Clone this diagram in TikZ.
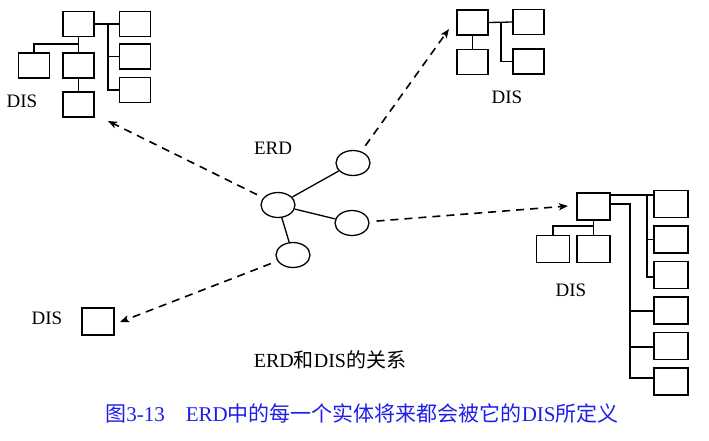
\documentclass[tikz,border=0pt]{standalone}
\usepackage{fontspec}
\setmainfont{Liberation Serif}
\newfontfamily\cjk{Noto Sans CJK SC}
\usepackage{tikz}
\usetikzlibrary{arrows.meta,positioning,shapes}
\definecolor{capblue}{RGB}{30,30,230}

\begin{document}
\begin{tikzpicture}[x=1pt,y=-1pt,>={Stealth[length=9pt,width=7pt,inset=2pt]},line width=1.3pt,
  dbox/.style={draw,rectangle,inner sep=0pt,minimum width=31pt,minimum height=25pt},
  ent/.style={draw,ellipse,inner sep=0pt,minimum width=34pt,minimum height=25pt},
  lbl/.style={inner sep=0pt,font=\fontsize{19}{22}\selectfont}]
\useasboundingbox (0,0) rectangle (709,440);
% upper left DIS
\node[dbox] (tl0) at (78.5,24)   {};
\node[dbox] (tl1) at (135,24)    {};
\node[dbox] (tl2) at (135,56.5)  {};
\node[dbox] (tl3) at (135,90)    {};
\node[dbox] (tl4) at (34,65.5)   {};
\node[dbox] (tl5) at (78.5,65.5) {};
\node[dbox] (tl6) at (78.5,104.5){};
\node[lbl]  (tldis) at (22,101)  {DIS};
\coordinate (tlv) at (108,24);
\coordinate (tlh) at (78.5,44);
\draw (tl0.east) -- (tl1.west);
\draw (tlv) |- (tl3.west);
\draw (tlv |- tl2) -- (tl2.west);
\draw (tl0.south) -- (tl5.north);
\draw (tlh) -| (tl4.north);
\draw (tl5.south) -- (tl6.north);
% upper right DIS
\node[dbox] (tr0) at (472.5,22.5) {};
\node[dbox] (tr1) at (472.5,62)   {};
\node[dbox] (tr2) at (528.5,22)   {};
\node[dbox] (tr3) at (528.5,61.5) {};
\node[lbl]  (trdis) at (507,97)   {DIS};
\coordinate (trv) at (501,22.5);
\draw (tr0.east) -- (tr2.west);
\draw (trv) |- (tr3.west);
\draw (tr0.south) -- (tr1.north);
% right DIS
\node[dbox,minimum width=33pt,minimum height=27pt] (r0) at (593.5,206.5) {};
\node[dbox,minimum width=33pt,minimum height=27pt] (r1) at (553,249)    {};
\node[dbox,minimum width=33pt,minimum height=27pt] (r2) at (593.5,249)  {};
\foreach \i in {1,...,6}
  \node[dbox,minimum width=34pt,minimum height=27pt] (c\i) at (671,{168.5+35.5*\i}) {};
\node[lbl] (rdis) at (571,290) {DIS};
\coordinate (ra) at (r0.east |- 0,195);
\coordinate (rb) at (r0.east |- 0,204);
\coordinate (rav) at (647,195);
\coordinate (rbv) at (630,204);
\coordinate (rh) at (593.5,226);
\draw (ra) -- (c1.west |- ra);
\draw (rav) |- (c3.west |- 0,277);
\draw (rav |- c2) -- (c2.west);
\draw (rb) -- (rbv) |- (c6.west |- 0,378);
\draw (rbv |- 0,311) -- (c4.west |- 0,311);
\draw (rbv |- 0,347) -- (c5.west |- 0,347);
\draw (r0.south) -- (r2.north);
\draw (rh) -| (r1.north);
% lower left DIS
\node[dbox,minimum width=32pt,minimum height=27pt] (bl) at (98,321.5) {};
\node[lbl] (bldis) at (47,318) {DIS};
% ERD
\node[ent] (e0) at (278,205) {};
\node[ent] (e1) at (353,163) {};
\node[ent] (e2) at (352,223) {};
\node[ent] (e3) at (293,255) {};
\node[lbl] (erd) at (273,148) {ERD};
\draw (e0) -- (e1);
\draw (e0) -- (e2);
\draw (e0) -- (e3);
% arrows to the DIS
\coordinate (tltip) at (108,121);
\coordinate (trtip) at (449,29);
\coordinate (rtip)  at (568,206);
\coordinate (bltip) at (120,322);
\tikzset{darrow/.style={->,dash pattern=on 8pt off 6pt,line width=1.6pt,shorten <=7pt}}
\draw[darrow] (e0) -- (tltip);
\draw[darrow] (e1) -- (trtip);
\draw[darrow] (e2) -- (rtip);
\draw[darrow] (e3) -- (bltip);
% titles
\node[lbl,font=\fontsize{20}{24}\selectfont] (rel) at (330,360) {ERD{\cjk 和}DIS{\cjk 的关系}};
\node[lbl,text=capblue,font=\fontsize{21}{24}\selectfont] (cap) at (362,413)
  {{\cjk 图}3-13\quad ERD{\cjk 中的每一个实体将来都会被它的}DIS{\cjk 所定义}};
\end{tikzpicture}
\end{document}
